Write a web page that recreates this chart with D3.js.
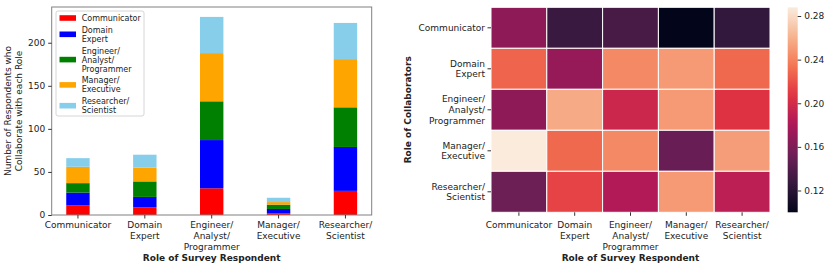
<!DOCTYPE html>
<html>
<head>
<meta charset="utf-8">
<script src="https://cdn.jsdelivr.net/npm/d3@7"></script>
<style>
  body { margin: 0; background: #fff; }
  text { font-family: "DejaVu Sans", sans-serif; fill: #222; }
</style>
</head>
<body>
<svg id="chart" width="830" height="267"></svg>
<script>
const roles = ['Communicator', 'Domain\nExpert', 'Engineer/\nAnalyst/\nProgrammer', 'Manager/\nExecutive', 'Researcher/\nScientist'];
const colors = ['#ff0000', '#0000ff', '#008000', '#ffa500', '#87ceeb'];

// collaborators counted per respondent role (x), stacked by collaborator role
const communicator = [11, 9, 31, 2, 28];
const domainExpert = [15, 12, 56, 5, 51];
const engineer = [11, 18, 45, 5, 46];
const manager = [19, 16, 56, 3, 56];
const researcher = [10, 15, 42, 5, 42];
const yTicks = [0, 50, 100, 150, 200];

// share of collaborators: rows = collaborator role, cols = respondent role
const shareCommunicator = [0.167, 0.129, 0.135, 0.100, 0.126];
const shareDomainExpert = [0.227, 0.171, 0.243, 0.250, 0.229];
const shareEngineer = [0.167, 0.257, 0.196, 0.250, 0.206];
const shareManager = [0.288, 0.229, 0.243, 0.150, 0.251];
const shareResearcher = [0.152, 0.214, 0.183, 0.250, 0.188];
const cbTicks = [0.12, 0.16, 0.20, 0.24, 0.28];

const svg = d3.select('#chart');

const multiline = (sel, str, lh) => {
  const lines = str.split('\n');
  lines.forEach((l, i) => sel.append('tspan').attr('x', sel.attr('x')).attr('dy', i === 0 ? 0 : lh).text(l));
};

// ---------- stacked bars ----------
const series = [communicator, domainExpert, engineer, manager, researcher];
const rows = roles.map((r, i) => {
  const o = { role: r, idx: i };
  series.forEach((s, k) => { o['k' + k] = s[i]; });
  return o;
});
const stack = d3.stack().keys(series.map((s, k) => 'k' + k))(rows);

const L = { left: 51.7, right: 371.7, top: 7, bottom: 215 };
const bw = 0.35;
const x = d3.scaleLinear().domain([-bw / 2 - 4.35 * 0.05, 4 + bw / 2 + 4.35 * 0.05]).range([L.left, L.right]);
const total = d3.max(rows, (d) => d3.sum(series, (s) => s[d.idx]));
const y = d3.scaleLinear().domain([0, total * 1.05]).range([L.bottom, L.top]);

const g1 = svg.append('g');
stack.forEach((layer, k) => {
  g1.selectAll(null)
    .data(layer)
    .enter()
    .append('rect')
    .attr('x', (d, i) => x(i - bw / 2))
    .attr('width', x(bw) - x(0))
    .attr('y', (d) => y(d[1]))
    .attr('height', (d) => y(d[0]) - y(d[1]))
    .attr('fill', colors[k]);
});

g1.append('rect')
  .attr('x', L.left).attr('y', L.top)
  .attr('width', L.right - L.left).attr('height', L.bottom - L.top)
  .attr('fill', 'none').attr('stroke', '#808080').attr('stroke-width', 1);

const yAxis = g1.append('g')
  .attr('transform', `translate(${L.left},0)`)
  .call(d3.axisLeft(y).tickValues(yTicks).tickSize(3.5).tickPadding(3));
yAxis.select('.domain').remove();
yAxis.selectAll('line').attr('stroke', '#333');
yAxis.selectAll('text').style('font-size', '9px').style('font-family', '"DejaVu Sans", sans-serif').attr('fill', '#222');

roles.forEach((r, i) => {
  g1.append('line').attr('x1', x(i)).attr('x2', x(i)).attr('y1', L.bottom).attr('y2', L.bottom + 3.5).attr('stroke', '#333');
  const t = g1.append('text').attr('x', x(i)).attr('y', L.bottom + 13)
    .attr('text-anchor', 'middle').style('font-size', '9px');
  multiline(t, r, 10.8);
});

g1.append('text')
  .attr('x', (L.left + L.right) / 2).attr('y', 261)
  .attr('text-anchor', 'middle').style('font-size', '9px').style('font-weight', 'bold')
  .text('Role of Survey Respondent');

const yl = g1.append('text')
  .attr('transform', `translate(11,${(L.top + L.bottom) / 2}) rotate(-90)`)
  .attr('x', 0).attr('y', 0)
  .attr('text-anchor', 'middle').style('font-size', '9px');
multiline(yl, 'Number of Respondents who\nCollaborate with each Role', 11);

// legend
const legend = g1.append('g');
legend.append('rect')
  .attr('x', 56).attr('y', 11).attr('width', 88).attr('height', 105).attr('rx', 2)
  .attr('fill', 'white').attr('fill-opacity', 0.8).attr('stroke', '#cccccc').attr('stroke-width', 0.8);
let ly = 13.5;
roles.forEach((r, k) => {
  const n = r.split('\n').length;
  const h = n * 9;
  const cy = ly + h / 2;
  legend.append('rect').attr('x', 59.5).attr('y', cy - 2.8).attr('width', 16.5).attr('height', 5.6).attr('fill', colors[k]);
  const t = legend.append('text').attr('x', 81.7).attr('y', cy - (n - 1) * 4.5 + 3)
    .style('font-size', '8px');
  multiline(t, r, 9);
  ly += h + 2.8;
});

// ---------- heatmap ----------
const matrix = [shareCommunicator, shareDomainExpert, shareEngineer, shareManager, shareResearcher];
const H = { left: 491, right: 770, top: 7.3, bottom: 212.3 };
const hx = d3.scaleBand().domain(d3.range(5)).range([H.left, H.right]);
const hy = d3.scaleBand().domain(d3.range(5)).range([H.top, H.bottom]);
const ext = d3.extent(matrix.flat());
const rocket = d3.piecewise(d3.interpolateRgb, ['#03051a', '#35193e', '#701f57', '#ad1759', '#e13342', '#f37651', '#f6b48f', '#faebdd']);
const color = d3.scaleSequential(rocket).domain(ext);

const g2 = svg.append('g');
matrix.forEach((row, r) => {
  g2.selectAll(null)
    .data(row)
    .enter()
    .append('rect')
    .attr('x', (d, c) => hx(c))
    .attr('y', hy(r))
    .attr('width', hx.bandwidth())
    .attr('height', hy.bandwidth())
    .attr('fill', (d) => color(d))
    .attr('stroke', 'white')
    .attr('stroke-width', 1);
});

roles.forEach((r, i) => {
  const cx = hx(i) + hx.bandwidth() / 2;
  g2.append('line').attr('x1', cx).attr('x2', cx).attr('y1', H.bottom).attr('y2', H.bottom + 3.5).attr('stroke', '#333');
  const t = g2.append('text').attr('x', cx).attr('y', L.bottom + 13)
    .attr('text-anchor', 'middle').style('font-size', '9px');
  multiline(t, r, 10.8);

  const cy = hy(i) + hy.bandwidth() / 2;
  g2.append('line').attr('x1', H.left - 3.5).attr('x2', H.left).attr('y1', cy).attr('y2', cy).attr('stroke', '#333');
  const n = r.split('\n').length;
  const ty = g2.append('text').attr('x', H.left - 6).attr('y', cy - (n - 1) * 5.4 + 3.2)
    .attr('text-anchor', 'end').style('font-size', '9px');
  multiline(ty, r, 10.8);
});

g2.append('text')
  .attr('x', (H.left + H.right) / 2).attr('y', 261)
  .attr('text-anchor', 'middle').style('font-size', '9px').style('font-weight', 'bold')
  .text('Role of Survey Respondent');

g2.append('text')
  .attr('transform', `translate(411,${(H.top + H.bottom) / 2}) rotate(-90)`)
  .attr('text-anchor', 'middle').style('font-size', '9px').style('font-weight', 'bold')
  .text('Role of Collaborators');

// colorbar
const cb = { x: 787.7, w: 10 };
const cy = d3.scaleLinear().domain(ext).range([H.bottom, H.top]);
const grad = svg.append('defs').append('linearGradient')
  .attr('id', 'cbgrad').attr('x1', 0).attr('x2', 0).attr('y1', 1).attr('y2', 0);
d3.range(0, 1.0001, 0.05).forEach((t) => {
  grad.append('stop').attr('offset', t).attr('stop-color', rocket(t));
});
g2.append('rect')
  .attr('x', cb.x).attr('y', H.top).attr('width', cb.w).attr('height', H.bottom - H.top)
  .attr('fill', 'url(#cbgrad)');
const cbAxis = g2.append('g')
  .attr('transform', `translate(${cb.x + cb.w},0)`)
  .call(d3.axisRight(cy).tickValues(cbTicks).tickFormat(d3.format('.2f')).tickSize(3.5).tickPadding(3));
cbAxis.select('.domain').remove();
cbAxis.selectAll('line').attr('stroke', '#333');
cbAxis.selectAll('text').style('font-size', '9px').style('font-family', '"DejaVu Sans", sans-serif').attr('fill', '#222');
</script>
</body>
</html>
